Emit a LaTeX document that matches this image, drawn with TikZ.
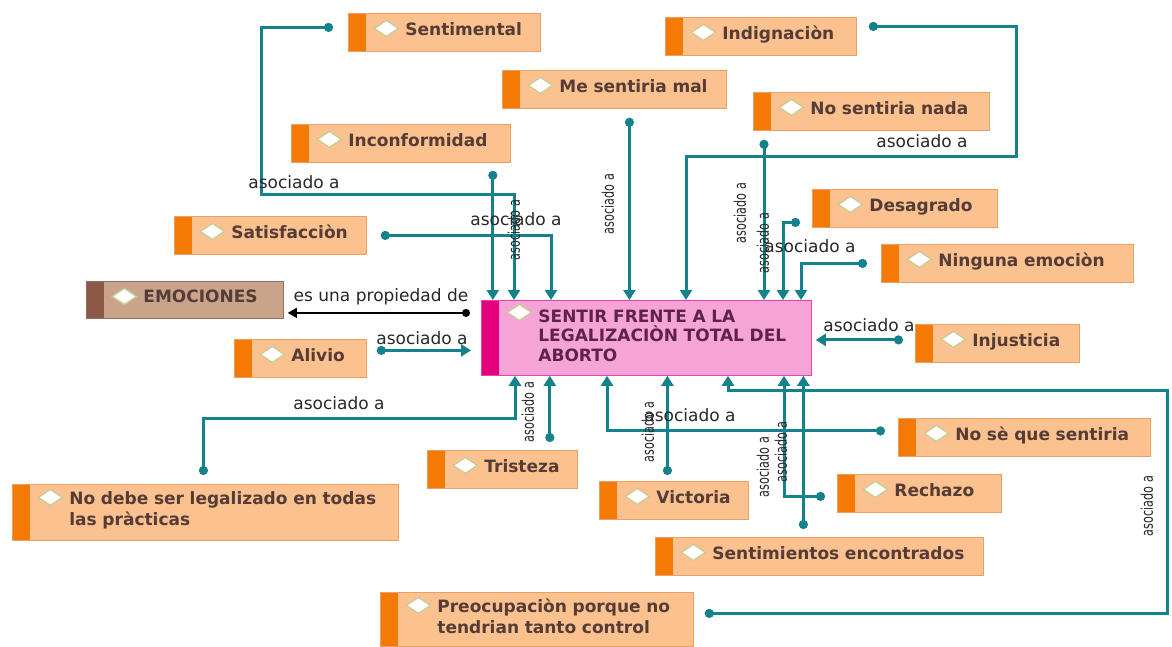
\documentclass[tikz,border=0pt]{standalone}
\usepackage{fontspec}
\setmainfont{DejaVu Sans}
\newfontfamily\estrecha{DejaVu Sans}[FakeStretch=0.7]
\usepackage{tikz}
\usetikzlibrary{arrows.meta}
\definecolor{naranja}{RGB}{251,193,143}
\definecolor{franja}{RGB}{245,122,5}
\definecolor{borde}{RGB}{232,160,100}
\definecolor{rosa}{RGB}{246,164,216}
\definecolor{rosaborde}{RGB}{225,70,170}
\definecolor{fucsia}{RGB}{228,0,124}
\definecolor{cafe}{RGB}{201,163,138}
\definecolor{cafeosc}{RGB}{140,88,72}
\definecolor{cafeborde}{RGB}{150,110,90}
\definecolor{verdeazul}{RGB}{20,130,138}
\definecolor{letra}{RGB}{85,60,55}
\definecolor{morado}{RGB}{95,35,75}
\definecolor{texto}{RGB}{40,40,40}
\definecolor{rombob}{RGB}{200,205,150}
\colorlet{colbanda}{franja}
\def\romboy{15pt}

\begin{document}
\begin{tikzpicture}[x=1pt, y=-1pt,
	concepto/.style={draw=borde, line width=0.8pt, fill=naranja, anchor=north west,
		inner sep=0pt, align=left, text width=#1,
		text height=22pt, text depth=16pt, text=letra,
		font=\bfseries\fontsize{17}{21}\selectfont,
		execute at begin node={\leftskip=57pt},
		path picture={
			\fill[colbanda] (path picture bounding box.north west)
				rectangle ([xshift=18pt]path picture bounding box.south west);
			\draw[line width=1.3pt, draw=rombob, fill=white]
				([shift={(38pt,-\romboy)}]path picture bounding box.north west)
				+(-12pt,0pt) -- +(0pt,8pt) -- +(12pt,0pt) -- +(0pt,-8pt) -- cycle;
		}},
	dos lineas/.style={text height=20pt, text depth=#1, rombo=13pt},
	rombo/.code={\def\romboy{#1}},
	banda/.code={\colorlet{colbanda}{#1}},
	rel/.style={draw=verdeazul, line width=3pt,
		{Circle[length=9pt]}-{Triangle[width=12pt,length=10pt]}},
	prop/.style={draw=black, line width=1.4pt,
		{Circle[length=8pt]}-{Triangle[width=10pt,length=9pt]}},
	etiqueta/.style={font=\fontsize{17}{20}\selectfont, text=texto, inner sep=1pt},
	vertical/.style={etiqueta, font=\estrecha\fontsize{16}{18}\selectfont, rotate=90}]

\fill[white] (0,0) rectangle (1172,646);
\useasboundingbox (0,0) rectangle (1172,646);

\node[concepto=192pt] (sent) at (348,13) {Sentimental};
\node[concepto=191pt] (indig) at (665,17) {Indignaciòn};
\node[concepto=224pt] (mesent) at (502,70) {Me sentiria mal};
\node[concepto=236pt] (nosnada) at (753,92) {No sentiria nada};
\node[concepto=219pt] (inconf) at (291,124) {Inconformidad};
\node[concepto=185pt] (desag) at (812,189) {Desagrado};
\node[concepto=192pt] (satis) at (174,216) {Satisfacciòn};
\node[concepto=252pt] (ning) at (881,244) {Ninguna emociòn};
\node[concepto=197pt, banda=cafeosc, fill=cafe, draw=cafeborde,
	text height=21pt, text depth=16pt] (emoc) at (86,281) {EMOCIONES};
\node[concepto=330pt, banda=fucsia, fill=rosa, draw=rosaborde, text=morado,
	font=\bfseries\fontsize{17}{19.5}\selectfont,
	text height=22pt, text depth=53pt, rombo=12pt] (sentir) at (481,300)
	{SENTIR FRENTE A LA\\LEGALIZACIÒN TOTAL DEL\\ABORTO};
\node[concepto=132pt] (alivio) at (234,339) {Alivio};
\node[concepto=164pt] (injus) at (915,324) {Injusticia};
\node[concepto=252pt] (nose) at (898,418) {No sè que sentiria};
\node[concepto=150pt] (trist) at (427,450) {Tristeza};
\node[concepto=149pt] (vict) at (599,481) {Victoria};
\node[concepto=164pt] (rech) at (837,474) {Rechazo};
\node[concepto=386pt, dos lineas=36pt] (nodebe) at (12,484)
	{No debe ser legalizado en todas\\las pràcticas};
\node[concepto=328pt] (sentenc) at (655,537) {Sentimientos encontrados};
\node[concepto=313pt, dos lineas=34pt] (preoc) at (380,592)
	{Preocupaciòn porque no\\tendrian tanto control};

% conectores hacia arriba
\draw[rel] ([shift={(-15pt,5pt)}]sent.west) -| (261,194) -| ([xshift=33pt]sentir.north west);
\draw[rel] ([shift={(-18pt,-8pt)}]inconf.south east) coordinate (c1) -- (c1 |- sentir.north);
\draw[rel] ([xshift=14pt]satis.east) -| ([xshift=70pt]sentir.north west);
\draw[rel] ([shift={(15pt,-9pt)}]mesent.south) coordinate (c2) -- (c2 |- sentir.north);
\draw[rel] ([shift={(12pt,10pt)}]indig.east) -| (1016,156) -| ([xshift=205pt]sentir.north west);
\draw[rel] ([shift={(11pt,-9pt)}]nosnada.south west) coordinate (c3) -- (c3 |- sentir.north);
\draw[rel] ([shift={(-12pt,-14pt)}]desag.west) -| ([xshift=302pt]sentir.north west);
\draw[rel] ([xshift=-14pt]ning.west) -| ([xshift=320pt]sentir.north west);

% conectores laterales
\draw[prop] ([shift={(-11pt,25pt)}]sentir.west) coordinate (c4) -- ([xshift=4pt]c4 -| emoc.east);
\draw[rel] ([shift={(10pt,8pt)}]alivio.east) coordinate (c5) -- ([xshift=-10pt]c5 -| sentir.west);
\draw[rel] ([shift={(-12pt,3.5pt)}]injus.west) coordinate (c6) -- ([xshift=4pt]c6 -| sentir.east);

% conectores hacia abajo
\draw[rel] ([shift={(-2pt,9pt)}]nodebe.north) |- (300,418) -| ([xshift=34pt]sentir.south west);
\draw[rel] ([shift={(-28pt,8pt)}]trist.north east) coordinate (c7) -- (c7 |- sentir.south);
\draw[rel] ([shift={(-13pt,6.5pt)}]nose.west) -| ([xshift=126pt]sentir.south west);
\draw[rel] ([shift={(-6.5pt,6pt)}]vict.north) coordinate (c8) -- (c8 |- sentir.south);
\draw[rel] ([shift={(-12pt,-3pt)}]rech.west) -| ([xshift=303pt]sentir.south west);
\draw[rel] ([shift={(-16pt,8pt)}]sentenc.north) coordinate (c9) -- (c9 |- sentir.south);
\draw[rel] ([shift={(11pt,6pt)}]preoc.east) -| (1167,390) -| ([xshift=247pt]sentir.south west);

\node[etiqueta] (e1) at (294,182) {asociado a};
\node[etiqueta] (e2) at (516,219) {asociado a};
\node[vertical] (e3) at (514,230) {asociado a};
\node[vertical] (e4) at (608,204) {asociado a};
\node[etiqueta] (e5) at (922,141) {asociado a};
\node[vertical] (e6) at (740,213) {asociado a};
\node[vertical] (e7) at (763,243) {asociado a};
\node[etiqueta] (e8) at (810,246) {asociado a};
\node[etiqueta] (e9) at (381,297) {es una propiedad de};
\node[etiqueta] (e10) at (422,338) {asociado a};
\node[etiqueta] (e11) at (869,325) {asociado a};
\node[etiqueta] (e12) at (339,403) {asociado a};
\node[vertical] (e13) at (528,412) {asociado a};
\node[etiqueta] (e14) at (690,415) {asociado a};
\node[vertical] (e15) at (648,432) {asociado a};
\node[vertical] (e16) at (763,467) {asociado a};
\node[vertical] (e17) at (781,452) {asociado a};
\node[vertical] (e18) at (1147,506) {asociado a};
\end{tikzpicture}
\end{document}
